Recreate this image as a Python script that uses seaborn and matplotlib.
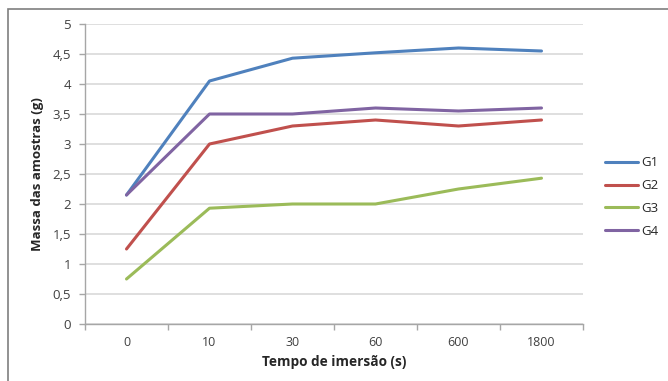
import matplotlib
matplotlib.use("Agg")
import matplotlib.pyplot as plt
import seaborn as sns
import pandas as pd
from matplotlib.patches import Rectangle

tempos = ["0", "10", "30", "60", "600", "1800"]
g1 = [2.15, 4.05, 4.43, 4.52, 4.60, 4.55]
g2 = [1.25, 3.00, 3.30, 3.40, 3.30, 3.40]
g3 = [0.75, 1.93, 2.00, 2.00, 2.25, 2.43]
g4 = [2.15, 3.50, 3.50, 3.60, 3.55, 3.60]
series_names = ["G1", "G2", "G3", "G4"]
yticks = [0, 0.5, 1, 1.5, 2, 2.5, 3, 3.5, 4, 4.5, 5]

rows = []
for name, vals in zip(series_names, [g1, g2, g3, g4]):
    for t, v in zip(tempos, vals):
        rows.append({"Tempo": t, "Massa": v, "Grupo": name})
df = pd.DataFrame(rows)

sns.set_theme(style="white")
plt.rcParams['font.family'] = ['Open Sans', 'DejaVu Sans']

fig = plt.figure(figsize=(6.68, 3.81), dpi=100)
ax = fig.add_axes([85/668, 57/381, 498/668, 300/381])

palette = {"G1": "#4F81BD", "G2": "#C0504D", "G3": "#9BBB59", "G4": "#8064A2"}
sns.lineplot(data=df, x="Tempo", y="Massa", hue="Grupo", palette=palette,
             sort=False, linewidth=2.2, ax=ax)

ax.set_xlim(-0.5, len(tempos) - 0.5)
ax.set_ylim(0, 5)
ax.set_yticks(yticks)
ax.set_yticklabels([f"{v:g}".replace(".", ",") for v in yticks])
ax.set_xticks(range(len(tempos)))
ax.set_xticklabels(tempos)
ax.yaxis.grid(True, color="#d9d9d9", linewidth=1.2)
ax.set_axisbelow(True)
for s in ["top", "right"]:
    ax.spines[s].set_visible(False)
for s in ["left", "bottom"]:
    ax.spines[s].set_color("#a6a6a6")
    ax.spines[s].set_linewidth(1)

ax.tick_params(axis="x", length=0, pad=9, labelsize=9, colors="#404040")
ax.tick_params(axis="y", length=4, width=1, color="#a6a6a6", direction="out",
               pad=6, labelsize=9.5, labelcolor="#404040", left=True)
ax.set_xticks([i - 0.5 for i in range(len(tempos) + 1)], minor=True)
ax.tick_params(axis="x", which="minor", length=4, width=1, color="#a6a6a6",
               direction="out", bottom=True)

ax.set_xlabel("Tempo de imersão (s)", fontsize=9.8, fontweight="bold", labelpad=4)
ax.set_ylabel("Massa das amostras (g)", fontsize=9.5, fontweight="bold", labelpad=6)

leg = ax.legend(loc="upper left", bbox_to_anchor=(600/668, 1 - 151/381),
                bbox_transform=fig.transFigure, frameon=False, fontsize=9.5,
                handlelength=2.5, labelspacing=0.75, handletextpad=0.2,
                borderaxespad=0)
for line in leg.get_lines():
    line.set_linewidth(2.2)

fig.patches.append(Rectangle((8/668, -0.05), 1.0, 1 - 9/381 + 0.05,
                             transform=fig.transFigure, fill=False,
                             edgecolor="#7f7f7f", linewidth=1.2))

fig.savefig("out.png", dpi=100)
